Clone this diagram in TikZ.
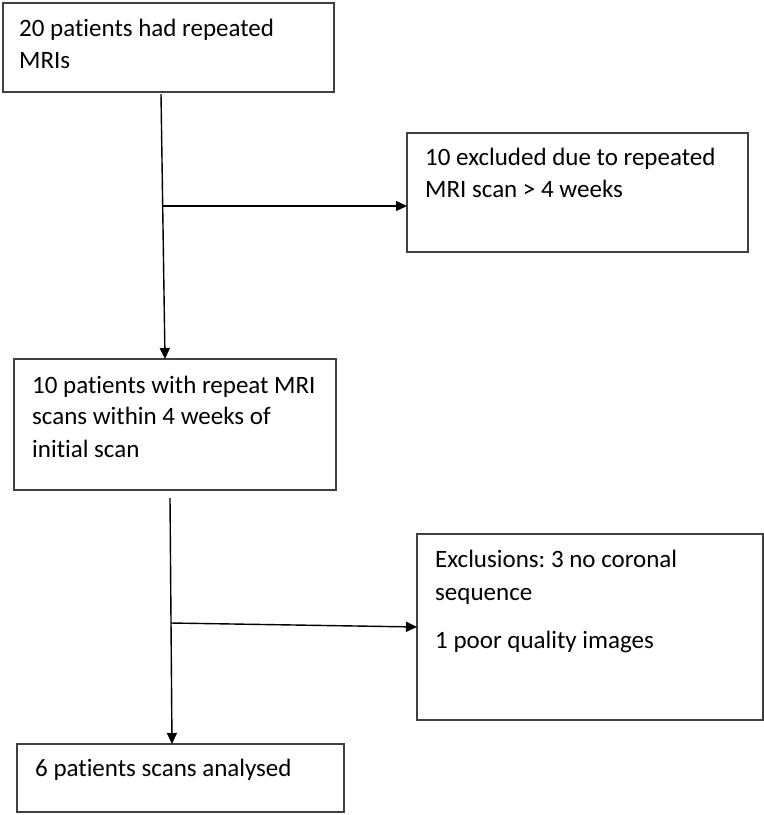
\documentclass[tikz,border=0pt]{standalone}
\usepackage{fontspec}
\setmainfont{Carlito}[Ligatures=NoCommon]
\frenchspacing
\usetikzlibrary{arrows.meta}
\begin{document}
\begin{tikzpicture}[x=1pt,y=-1pt,
  box/.style={draw=black!75,line width=1.2pt,inner sep=0pt,outer sep=0pt,anchor=north west},
  txt/.style={anchor=base west,inner sep=0pt,font=\fontsize{25}{32}\selectfont},
  conn/.style={line width=1.4pt,-{Triangle[length=11pt,width=10pt]}},
  plain/.style={line width=1.4pt}]
\useasboundingbox (0,0) rectangle (764,815);
% boxes
\node[box,minimum width=331pt,minimum height=89pt] (b1) at (3,3) {};
\node[box,minimum width=341pt,minimum height=119pt] (b2) at (407,133) {};
\node[box,minimum width=322pt,minimum height=131pt] (b3) at (14,359) {};
\node[box,minimum width=346pt,minimum height=186pt] (b4) at (417,534) {};
\node[box,minimum width=327pt,minimum height=68pt] (b5) at (17,744) {};
% texts
\node[txt] (t1a) at (19,36) {20 patients had repeated};
\node[txt] (t1b) at (19,68) {MRIs};
\node[txt] (t2a) at (425,165) {10 excluded due to repeated};
\node[txt] (t2b) at (425,197) {MRI scan > 4 weeks};
\node[txt] (t3a) at (32,393) {10 patients with repeat MRI};
\node[txt] (t3b) at (32,424) {scans within 4 weeks of};
\node[txt] (t3c) at (32,457) {initial scan};
\node[txt] (t4a) at (435,567) {Exclusions: 3 no coronal};
\node[txt] (t4b) at (435,600) {sequence};
\node[txt] (t4c) at (435,648) {1 poor quality images};
\node[txt] (t5a) at (35,776) {6 patients scans analysed};
% connector points
\coordinate (s1) at (161,94);
\coordinate (e1) at (165,359);
\coordinate (j1) at (162,206);
\coordinate (e2) at (407,206);
\coordinate (s3) at (170,498);
\coordinate (e3) at (172,744);
\coordinate (j2) at (171,623);
\coordinate (e4) at (417,627);
% connectors
\draw[conn] (s1) -- (e1);
\draw[conn] (j1) -- (e2);
\draw[conn] (s3) -- (e3);
\draw[conn] (j2) -- (e4);
\end{tikzpicture}
\end{document}
